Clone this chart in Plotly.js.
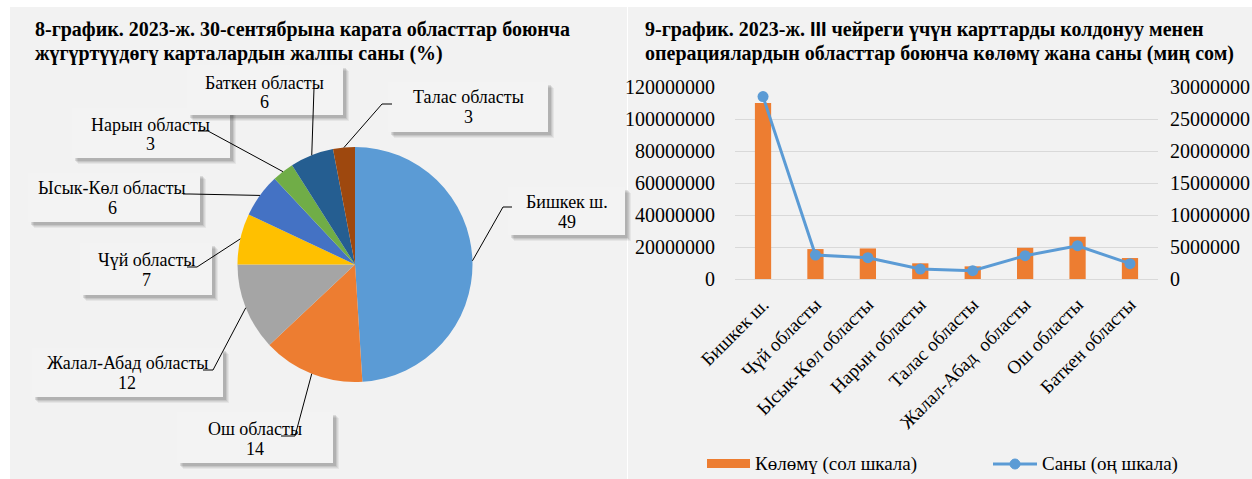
<!DOCTYPE html>
<html>
<head>
<meta charset="utf-8">
<script src="https://cdn.plot.ly/plotly-3.0.1.min.js"></script>
<style>
html,body{margin:0;padding:0;background:#fff;}
#chart{width:1252px;height:479px;}
</style>
</head>
<body>
<div id="chart"></div>
<script>
// ---------- DATA ----------
// Pie (chart 8): share of cards in circulation by region, %
const pieRegions = ['Бишкек ш.', 'Ош областы', 'Жалал-Абад областы', 'Чүй областы',
                    'Ысык-Көл областы', 'Нарын областы', 'Баткен областы', 'Талас областы'];
const pieShares = [49, 14, 12, 7, 6, 3, 6, 3];
const pieColors = ['#5b9bd5', '#ed7d31', '#a5a5a5', '#ffc000', '#4472c4', '#70ad47', '#255e91', '#9e480e'];

// Combo (chart 9): volume (left axis) and number (right axis) of card operations
const barCategories = ['Бишкек ш.', 'Чүй областы', 'Ысык-Көл областы', 'Нарын областы',
                       'Талас областы', 'Жалал-Абад\u00a0 областы', 'Ош областы', 'Баткен областы'];
const volumeValues = [110000000, 18700000, 19100000, 9800000, 7900000, 19500000, 26400000, 13100000];
const countValues  = [28500000, 3740000, 3330000, 1560000, 1300000, 3640000, 5200000, 2390000];
const leftTicks  = [0, 20000000, 40000000, 60000000, 80000000, 100000000, 120000000];
const rightTicks = [0, 5000000, 10000000, 15000000, 20000000, 25000000, 30000000];

const seriesNames = ['Көлөмү (сол шкала)', 'Саны (оң шкала)'];
const title8 = ['8-график. 2023-ж. 30-сентябрына карата областтар боюнча',
                'жүгүртүүдөгү карталардын жалпы саны (%)'];
const title9 = ['9-график. 2023-ж. <span style="font-family:Liberation Sans">III</span> чейреги үчүн карттарды колдонуу менен',
                'операциялардын областтар боюнча көлөмү жана саны (миң сом)'];

// ---------- LAYOUT HELPERS ----------
const W = 1252, H = 479;
const px = x => x / W;
const py = y => 1 - y / H;
const SERIF = 'Liberation Serif';

// pie geometry (pixels)
const PCX = 355, PCY = 264.5, PR = 117.5;

// callout boxes, in the same order as pieRegions
const callouts = [
  {box:[508,187,625,235], tx:567, ty:[202,222], elbow:[503,207], end:[512,207]},
  {box:[177,412,333,463], tx:255, ty:[429,449], elbow:[295,436], end:[281,436]},
  {box:[32,348,223,397],  tx:127, ty:[363,383], elbow:[213,370], end:[203,370]},
  {box:[80,243,212,295],  tx:146, ty:[260,280], elbow:[197,267], end:[187,267]},
  {box:[28,173,200,222],  tx:112, ty:[188,208], elbow:[190,194], end:[183,194]},
  {box:[72,108,230,158],  tx:150, ty:[125,144], elbow:[208,131], end:[198,131]},
  {box:[187,65,343,115],  tx:264, ty:[83,102],  elbow:[314,88],  end:[314,88]},
  {box:[388,82,548,132],  tx:468, ty:[97,117],  elbow:[382,104], end:[392,104]}
];

const shapes = [];
const annotations = [];

// background panels
shapes.push({type:'rect', xref:'paper', yref:'paper', layer:'below',
  x0:px(10), x1:px(627), y0:py(479), y1:py(7), fillcolor:'#f2f2f2', line:{width:0}});
shapes.push({type:'rect', xref:'paper', yref:'paper', layer:'below',
  x0:px(628), x1:px(1252), y0:py(479), y1:py(7), fillcolor:'#f2f2f2', line:{width:0}});

// callouts: shadow, box, leader line, text
const total = pieShares.reduce((a,b)=>a+b,0);
let cum = 0;
pieShares.forEach((v,i) => {
  const mid = (cum + v/2) / total * 2 * Math.PI;
  cum += v;
  const ex = PCX + PR * Math.sin(mid);
  const ey = PCY - PR * Math.cos(mid);
  const c = callouts[i];
  const [x0,y0,x1,y1] = c.box;
  [[6,0.05],[5,0.06],[4,0.08],[3,0.10]].forEach(([o,a]) => {
    shapes.push({type:'rect', xref:'paper', yref:'paper', layer:'above',
      x0:px(x0+o), x1:px(x1+o), y0:py(y1+o), y1:py(y0+o),
      fillcolor:'rgba(0,0,0,'+a+')', line:{width:0}});
  });
  shapes.push({type:'rect', xref:'paper', yref:'paper', layer:'above',
    x0:px(x0), x1:px(x1), y0:py(y1), y1:py(y0), fillcolor:'#f3f3f3', line:{width:0}});
  shapes.push({type:'path', xref:'paper', yref:'paper', layer:'above',
    path:'M'+px(ex)+','+py(ey)+' L'+px(c.elbow[0])+','+py(c.elbow[1])+' L'+px(c.end[0])+','+py(c.end[1]),
    line:{color:'#000', width:1}});
  annotations.push({xref:'paper', yref:'paper', x:px(c.tx), y:py(c.ty[0]), showarrow:false,
    xanchor:'center', yanchor:'middle', text:pieRegions[i], font:{family:SERIF, size:18, color:'#000'}});
  annotations.push({xref:'paper', yref:'paper', x:px(c.tx), y:py(c.ty[1]), showarrow:false,
    xanchor:'center', yanchor:'middle', text:String(v), font:{family:SERIF, size:18, color:'#000'}});
});

// titles (one annotation per line)
[[title8, 33], [title9, 643]].forEach(([lines, x]) => {
  lines.forEach((t, k) => {
    annotations.push({xref:'paper', yref:'paper', x:px(x), y:py(30 + 23*k), xanchor:'left', yanchor:'middle',
      align:'left', showarrow:false, text:'<b>'+t+'</b>', font:{family:SERIF, size:20, color:'#000'}});
  });
});

// manual legend for chart 9
shapes.push({type:'rect', xref:'paper', yref:'paper', layer:'above',
  x0:px(707), x1:px(750), y0:py(468), y1:py(459), fillcolor:'#ed7d31', line:{width:0}});
shapes.push({type:'line', xref:'paper', yref:'paper', layer:'above',
  x0:px(993), x1:px(1037), y0:py(464), y1:py(464), line:{color:'#5b9bd5', width:3}});
shapes.push({type:'circle', xref:'paper', yref:'paper', layer:'above',
  x0:px(1010), x1:px(1020), y0:py(469), y1:py(459), fillcolor:'#5b9bd5', line:{color:'#5b9bd5', width:1}});
annotations.push({xref:'paper', yref:'paper', x:px(753), y:py(464), xanchor:'left', yanchor:'middle',
  showarrow:false, text:seriesNames[0], font:{family:SERIF, size:19, color:'#000'}});
annotations.push({xref:'paper', yref:'paper', x:px(1040), y:py(464), xanchor:'left', yanchor:'middle',
  showarrow:false, text:seriesNames[1], font:{family:SERIF, size:19, color:'#000'}});

// ---------- TRACES ----------
const traces = [
  {type:'pie', values:pieShares, labels:pieRegions, sort:false, direction:'clockwise', rotation:0,
   marker:{colors:pieColors, line:{width:0}}, textinfo:'none', hoverinfo:'label+value',
   domain:{x:[px(PCX-PR), px(PCX+PR)], y:[py(PCY+PR), py(PCY-PR)]}, showlegend:false},
  {type:'bar', x:barCategories, y:volumeValues, name:seriesNames[0], xaxis:'x', yaxis:'y',
   marker:{color:'#ed7d31'}, showlegend:false},
  {type:'scatter', mode:'lines+markers', x:barCategories, y:countValues, name:seriesNames[1],
   xaxis:'x', yaxis:'y2', line:{color:'#5b9bd5', width:3}, marker:{color:'#5b9bd5', size:11},
   showlegend:false}
];

const tickFont = {family:SERIF, size:20, color:'#000'};
const layout = {
  width:W, height:H,
  margin:{l:0, r:0, t:0, b:0},
  paper_bgcolor:'#ffffff', plot_bgcolor:'rgba(0,0,0,0)',
  showlegend:false,
  bargap:0.69,
  xaxis:{domain:[px(735), px(1158)], tickangle:-45, tickfont:{family:SERIF, size:19, color:'#000'},
    showgrid:false, showline:false, zeroline:false, ticks:'outside', ticklen:6,
    tickcolor:'rgba(0,0,0,0)', fixedrange:true},
  yaxis:{domain:[py(279), py(87)], range:[0,120000000], tickvals:leftTicks,
    ticktext:leftTicks.map(String), tickfont:tickFont, showgrid:true, gridcolor:'#d9d9d9',
    gridwidth:1, zeroline:true, zerolinecolor:'#d9d9d9', zerolinewidth:1, showline:false,
    ticks:'outside', ticklen:15, tickcolor:'rgba(0,0,0,0)', fixedrange:true},
  yaxis2:{overlaying:'y', side:'right', anchor:'x', range:[0,30000000], tickvals:rightTicks,
    ticktext:rightTicks.map(String), tickfont:tickFont, showgrid:false, zeroline:false,
    showline:false, ticks:'outside', ticklen:7, tickcolor:'rgba(0,0,0,0)', fixedrange:true},
  shapes:shapes,
  annotations:annotations
};

Plotly.newPlot('chart', traces, layout, {displayModeBar:false, staticPlot:true});
</script>
</body>
</html>
